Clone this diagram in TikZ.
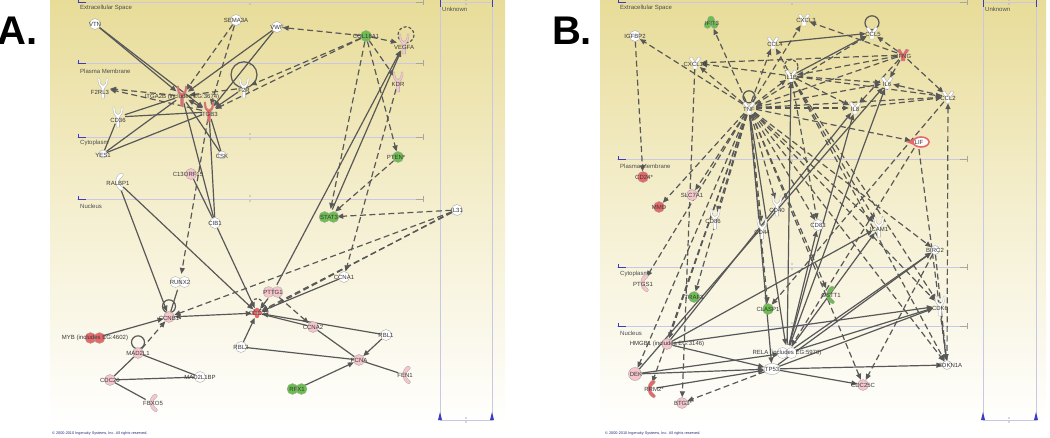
\documentclass[tikz,border=0pt]{standalone}
\usepackage{fontspec}
\setmainfont{Liberation Sans}
\usetikzlibrary{arrows.meta,shapes.geometric}
\definecolor{bgtop}{RGB}{232,220,152}
\definecolor{redc}{RGB}{232,104,106}
\definecolor{pinkc}{RGB}{246,198,204}
\definecolor{greenc}{RGB}{108,190,80}
\definecolor{edgec}{RGB}{88,88,88}
\definecolor{layc}{RGB}{200,200,228}
\definecolor{markc}{RGB}{60,60,190}
\definecolor{copyc}{RGB}{40,40,120}
\pgfdeclarelayer{back}
\pgfdeclarelayer{edges}
\pgfsetlayers{back,edges,main}
\newcommand\labfont{\fontsize{6}{6.5}\selectfont}
\tikzset{
  gene/.style={circle, draw=gray!75, line width=0.35pt, minimum size=11pt, inner sep=0pt},
  wh/.style={gene, fill=white},
  pk/.style={gene, fill=pinkc},
  rd/.style={gene, fill=redc},
  gn/.style={gene, fill=greenc},
  hub/.style={circle, minimum size=#1, inner sep=0pt},
  hub/.default=14pt,
  lab/.style={font=\labfont, text=black!78, inner sep=0pt},
  layl/.style={font=\labfont, text=black!70, anchor=west, inner sep=0pt},
  lin/.style={draw=edgec, line width=1.2pt},
  arr/.style={lin, -{Triangle[length=6pt,width=5pt]}},
  darr/.style={arr, dash pattern=on 6pt off 3.5pt},
  dlin/.style={lin, dash pattern=on 6pt off 3.5pt},
  biarr/.style={lin, {Triangle[length=6pt,width=5pt]}-{Triangle[length=6pt,width=5pt]}},
  layline/.style={draw=layc, line width=0.8pt},
  rec/.pic={\path[draw=gray!70, line width=0.3pt, fill=#1] (-5,-10) .. controls (-5,-3) and (-3,-1) .. (-1.6,0) -- (-1.6,10) -- (1.6,10) -- (1.6,0) .. controls (3,-1) and (5,-3) .. (5,-10) -- (3.2,-10) .. controls (3.2,-4) and (1.5,-2.5) .. (0,-2.5) .. controls (-1.5,-2.5) and (-3.2,-4) .. (-3.2,-10) -- cycle;},
  enz/.pic={\path[draw=gray!70, line width=0.3pt, fill=#1] (1,-9) .. controls (-6,-6) and (-6,6) .. (2,9) .. controls (4,8) and (4,6) .. (2,5) .. controls (-2,3) and (-2,-3) .. (2,-5) .. controls (4,-6) and (4,-8) .. (1,-9) -- cycle;},
  cyto/.pic={\path[draw=gray!70, line width=0.3pt, fill=#1] (-6,-5) -- (-3,-6) -- (0,-1) -- (3,-6) -- (6,-5) -- (2,1) -- (2,6) -- (-2,6) -- (-2,1) -- cycle;},
  dbl/.pic={\path[draw=gray!70, line width=0.3pt, fill=#1] (-4.5,0) circle[radius=5.5] (4.5,0) circle[radius=5.5];},
  grp/.pic={\path[draw=gray!70, line width=0.3pt, fill=#1] (-3.5,2) circle[radius=3.5] (3.5,2) circle[radius=3.5] (0,-3.5) circle[radius=3.5];},
  cplx/.pic={\path[fill=redc] (-3,0) circle[radius=2.2] (3,0) circle[radius=2.2] (0,-3) circle[radius=2.2] (0,3) circle[radius=2.2];},
  lifp/.pic={\path[fill=redc] (-12,0) -- (-4,-3) -- (-4,3) -- cycle; \path[draw=redc, line width=1.6pt, fill=white] (3,0) ellipse[x radius=8, y radius=5];}
}
\begin{document}
\begin{tikzpicture}[x=1pt,y=-1pt]
\useasboundingbox (0,0) rectangle (1050,438);
\begin{pgfonlayer}{back}
\shade[top color=bgtop, bottom color=white, middle color=bgtop!45!white] (50,0) rectangle (505,428);
\shade[top color=bgtop, bottom color=white, middle color=bgtop!45!white] (600,0) rectangle (1046,428);
% layer lines A
\foreach \yy in {2,63,137,199} {
  \draw[layline] (77,\yy) -- (423,\yy);
  \draw[markc, line width=0.9pt] (78,\yy-3) -- (78,\yy+1) (78,\yy) -- (86,\yy);
  \draw[gray!70, line width=0.8pt] (423,\yy-3) -- (423,\yy+3) (416,\yy) -- (423,\yy);
  \fill[gray!60] (250,\yy-3) circle[radius=0.8] (250,\yy+2) circle[radius=0.8];
}
\draw[layline] (440,0) -- (440,420) -- (492,420) -- (492,0);
\draw[layline] (440,2) -- (492,2);
\draw[markc, line width=1pt] (440,0) -- (440,7) (492,0) -- (492,7);
\fill[markc] (438,420) -- (442,420) -- (440,412) -- cycle (490,420) -- (494,420) -- (492,412) -- cycle;
\fill[gray!60] (466,418) circle[radius=0.8] (466,422) circle[radius=0.8] (466,0) circle[radius=0.8] (466,4) circle[radius=0.8];
% layer lines B
\foreach \yy in {2,159,267,326} {
  \draw[layline] (617,\yy) -- (967,\yy);
  \draw[markc, line width=0.9pt] (618,\yy-3) -- (618,\yy+1) (618,\yy) -- (626,\yy);
  \draw[gray!70, line width=0.8pt] (967,\yy-3) -- (967,\yy+3) (960,\yy) -- (967,\yy);
  \fill[gray!60] (792,\yy-3) circle[radius=0.8] (792,\yy+2) circle[radius=0.8];
}
\draw[layline] (983,0) -- (983,420) -- (1036,420) -- (1036,0);
\draw[layline] (983,2) -- (1036,2);
\draw[markc, line width=1pt] (983,0) -- (983,7) (1036,0) -- (1036,7);
\fill[markc] (981,420) -- (985,420) -- (983,412) -- cycle (1034,420) -- (1038,420) -- (1036,412) -- cycle;
\fill[gray!60] (1009,418) circle[radius=0.8] (1009,422) circle[radius=0.8] (1009,0) circle[radius=0.8] (1009,4) circle[radius=0.8];
\end{pgfonlayer}
% panel letters and layer labels
\node[font=\bfseries\fontsize{40}{40}\selectfont, inner sep=0pt] (LA) at (18,31) {A.};
\node[font=\bfseries\fontsize{40}{40}\selectfont, inner sep=0pt] (LB) at (572,31) {B.};
\node[layl] (la1) at (80,8) {Extracellular Space};
\node[layl] (la2) at (80,71) {Plasma Membrane};
\node[layl] (la3) at (80,143) {Cytoplasm};
\node[layl] (la4) at (80,206) {Nucleus};
\node[layl] (la5) at (442,9) {Unknown};
\node[layl] (lb1) at (620,8) {Extracellular Space};
\node[layl] (lb2) at (620,166) {Plasma Membrane};
\node[layl] (lb3) at (620,274) {Cytoplasm};
\node[layl] (lb4) at (620,333) {Nucleus};
\node[layl] (lb5) at (985,9) {Unknown};
\node[anchor=west, inner sep=0pt, text=copyc, font=\fontsize{3.8}{4}\selectfont] (ca) at (52,434) {© 2000-2010 Ingenuity Systems, Inc. All rights reserved.};
\node[anchor=west, inner sep=0pt, text=copyc, font=\fontsize{3.8}{4}\selectfont] (cb) at (605,434) {© 2000-2010 Ingenuity Systems, Inc. All rights reserved.};

% ================= Panel A nodes =================
\node[wh] (VTN) at (95,24) {};
\node[wh] (SEMA3A) at (236,20) {};
\node[wh] (VWF) at (277,27) {};
\node[gn] (COL18A1) at (366,36) {};
\pic at (404,44) {rec=pinkc}; \node[hub] (VEGFA) at (404,44) {};
\pic at (398,82) {rec=pinkc}; \node[hub] (KDR) at (398,82) {};
\pic at (103,88) {rec=white}; \node[hub] (F2RL3) at (103,88) {};
\pic at (182,96) {rec=redc}; \node[hub] (ITGA2B) at (182,96) {};
\pic at (209,112) {rec=redc}; \node[hub] (ITGB3) at (209,112) {};
\pic at (244,88) {rec=white}; \node[hub] (F2R) at (244,88) {};
\pic at (118,117) {rec=white}; \node[hub] (CD36) at (118,117) {};
\node[wh, minimum size=8pt] (YES1) at (103,154) {};
\node[wh, minimum size=8pt] (CSK) at (222,155) {};
\node[pk] (C13ORF15) at (191,174) {};
\pic at (120,182) {enz=white}; \node[hub] (RALBP1) at (118,182) {};
\node[gn] (PTEN) at (398,157) {};
\pic at (329,217) {dbl=greenc}; \node[hub=16pt] (STAT3) at (329,217) {};
\node[wh] (IL31) at (457,210) {};
\node[wh] (CIB1) at (215,223) {};
\node[wh] (CCNA1) at (344,277) {};
\pic at (180,282) {dbl=white}; \node[hub=16pt] (RUNX2) at (180,282) {};
\pic at (273,292) {dbl=pinkc}; \node[hub=16pt] (PTTG1) at (273,292) {};
\node[pk] (CCNB1) at (169,317) {};
\pic at (257,313) {cplx}; \node[hub=10pt] (CDC2) at (257,313) {};
\node[pk] (CCNA2) at (313,327) {};
\node[wh] (RBL1) at (386,335) {};
\pic at (95,338) {dbl=redc}; \node[hub=16pt] (MYB) at (95,338) {};
\node[wh] (RBL2) at (241,347) {};
\node[pk] (MAD2L1) at (138,353) {};
\node[pk] (PCNA) at (359,360) {};
\pic at (407,375) {enz=pinkc}; \node[hub] (FEN1) at (405,375) {};
\node[wh] (MAD2L1BP) at (200,377) {};
\node[pk] (CDC20) at (110,380) {};
\pic at (297,389) {dbl=greenc}; \node[hub=16pt] (RFX1) at (297,389) {};
\pic at (154,403) {enz=pinkc}; \node[hub] (FBXO5) at (152,403) {};

% ================= Panel B nodes =================
\node[wh] (IGFBP2) at (635,36) {};
\pic at (711,23) {grp=greenc}; \node[hub=12pt] (IFIT3) at (711,23) {};
\pic at (804,20) {cyto=white}; \node[hub=12pt] (CXCL3) at (804,20) {};
\pic at (773,43) {cyto=white}; \node[hub=12pt] (CCL4) at (773,43) {};
\pic at (872,33) {cyto=white}; \node[hub=12pt] (CCL5) at (872,33) {};
\pic at (903,55) {cyto=redc}; \node[hub=12pt] (IFNG) at (903,55) {};
\pic at (695,63) {cyto=white}; \node[hub=12pt] (CXCL10) at (695,63) {};
\pic at (791,76) {cyto=white}; \node[hub=12pt] (IL1B) at (791,76) {};
\pic at (887,83) {cyto=white}; \node[hub=12pt] (IL6) at (887,83) {};
\pic at (948,97) {cyto=white}; \node[hub=12pt] (CCL2) at (948,97) {};
\pic at (749,108) {cyto=white}; \node[hub=14pt] (TNF) at (749,108) {};
\pic at (855,108) {cyto=white}; \node[hub=12pt] (IL8) at (855,108) {};
\pic at (918,142) {lifp}; \node[hub=14pt] (LIF) at (918,142) {};
\node[rd] (CD24) at (643,177) {};
\node[pk] (SLC7A1) at (692,195) {};
\node[rd] (MMD) at (659,207) {};
\pic at (715,219) {rec=white}; \node[hub] (CD86) at (715,219) {};
\pic at (777,206) {rec=white}; \node[hub] (CD40) at (777,206) {};
\pic at (762,229) {rec=white}; \node[hub] (CD44) at (762,229) {};
\node[wh] (CD83) at (818,225) {};
\pic at (879,227) {rec=white}; \node[hub] (ICAM1) at (879,227) {};
\node[wh, minimum size=9pt] (BIRC) at (935,250) {};
\pic at (645,283) {enz=pinkc}; \node[hub] (PTGS1) at (643,283) {};
\node[gn] (TRAF3) at (694,297) {};
\pic at (831,295) {enz=greenc}; \node[hub] (GENZ) at (829,295) {};
\node[gn] (CLASP1) at (768,309) {};
\pic at (940,306) {rec=white}; \node[hub] (CDKr) at (940,306) {};
\node[pk] (HMGB1) at (667,344) {};
\pic at (787,353) {dbl=white}; \node[hub=16pt] (RELA) at (787,353) {};
\node[ellipse, draw=gray!75, line width=0.35pt, fill=white, minimum width=16pt, minimum height=11pt, inner sep=0pt] (TP53) at (772,369) {};
\node[wh, minimum size=9pt] (CDKN1A) at (947,365) {};
\node[pk, minimum size=13pt] (DEK) at (635,374) {};
\pic at (652,389) {enz=redc}; \node[hub] (RRM2) at (650,389) {};
\node[pk] (CDC25C) at (863,385) {};
\node[pk] (BTG3) at (682,403) {};

% ================= Edges =================
\begin{pgfonlayer}{edges}
% --- A
\foreach \a/\b in {VTN/ITGA2B, VTN/ITGB3, VWF/ITGA2B, VWF/ITGB3, F2R/ITGB3, STAT3/VEGFA, PTTG1/VEGFA, RALBP1/CCNB1, RALBP1/CDC2, MYB/CCNB1, RBL2/CDC2, RBL1/CDC2, RBL1/PCNA, RFX1/PCNA, CIB1/CDC2, CCNA1/CDC2, PTTG1/CDC2}
  \draw[arr] (\a) -- (\b);
\draw[biarr] (CCNB1) -- (CDC2);
\draw[biarr] (ITGA2B) -- (ITGB3);
\foreach \a/\b in {CD36/ITGA2B, CD36/ITGB3, YES1/ITGA2B, YES1/ITGB3, YES1/CD36, CSK/ITGA2B, CSK/ITGB3, ITGB3/CIB1, ITGA2B/CIB1, C13ORF15/CIB1, RUNX2/CCNB1, MAD2L1/CDC20, MAD2L1/MAD2L1BP, CDC20/MAD2L1BP, CDC20/FBXO5, RBL2/PCNA, CCNA2/PCNA, PCNA/FEN1, CDC2/CCNA2}
  \draw[lin] (\a) -- (\b);
\foreach \a/\b in {SEMA3A/ITGA2B, SEMA3A/ITGB3, COL18A1/VWF, COL18A1/F2R, COL18A1/ITGB3, COL18A1/VEGFA, COL18A1/KDR, COL18A1/PTEN, COL18A1/STAT3, ITGA2B/F2RL3, ITGB3/F2RL3, F2R/ITGA2B, ITGB3/RUNX2, MAD2L1/CCNB1, IL31/STAT3, IL31/CDC2, IL31/CCNB1, PTEN/STAT3, KDR/CCNA1, PTTG1/CCNA2}
  \draw[darr] (\a) -- (\b);
\draw[darr] (IL31.200) -- (CDC2.10);
% loops A
\draw[lin] (F2R.north) ++(0,-6) circle[radius=13];
\draw[lin] (CCNB1.north) ++(0,-5) circle[radius=6.5];
\draw[lin] (MAD2L1.north) ++(0,-5) circle[radius=6.5];
\draw[dlin, dash pattern=on 3pt off 2pt] (VEGFA.north) ++(2,-2) circle[radius=8];
\draw[dlin, dash pattern=on 3pt off 2pt] (CDC2.north) ++(0,-3) circle[radius=6];
% --- B
\foreach \b in {IGFBP2, IFIT3, CXCL10, CCL4, CXCL3, CCL5, IL1B, IL6, IL8, CCL2, LIF, SLC7A1, MMD, PTGS1, CD86, CD40, CD44, CD83, ICAM1, BIRC, CDKr, CDKN1A, HMGB1, DEK, RRM2, TRAF3, CLASP1, GENZ, CDC25C}
  \draw[darr] (TNF) -- (\b);
\foreach \b in {CCL5, CXCL3, IL6, CCL2, IL8, TNF, IL1B, CXCL10}
  \draw[darr] (IFNG) -- (\b);
\foreach \b in {CCL4, CXCL10, IL6, IL8, CCL2, ICAM1, CD83, CDKN1A, CDKr}
  \draw[darr] (IL1B) -- (\b);
\foreach \a/\b in {CCL2/IL6, IL8/CCL2, IGFBP2/CD24, CXCL10/BTG3, LIF/RELA, LIF/CDKN1A, CDKN1A/CCL2, CCL2/CLASP1, BIRC/CDKN1A, CDKr/CDKN1A, BIRC/CDC25C, TP53/BTG3}
  \draw[darr] (\a) -- (\b);
\foreach \a/\b in {RELA/IL1B, RELA/IL6, RELA/IL8, RELA/ICAM1, RELA/BIRC, RELA/CDKr, RELA/CD83, TNF/RELA, TNF/TP53, TP53/CDKN1A, TP53/CDC25C, HMGB1/TP53, DEK/TP53, DEK/RELA, RRM2/TP53, TP53/BIRC, TP53/CDKr, HMGB1/ICAM1, HMGB1/IL8, HMGB1/CDKr, DEK/IL6, CCL4/CCL5, IL1B/CCL5}
  \draw[arr] (\a) -- (\b);
\draw[lin] (TNF.north) ++(0,-4) circle[radius=6];
\draw[dlin, dash pattern=on 3pt off 2pt] (IL1B.north) ++(0,-3) circle[radius=7];
\draw[lin] (CCL5.north) ++(0,-4) circle[radius=7];
\end{pgfonlayer}

% ================= Labels =================
\node[lab] at (VTN) {VTN};
\node[lab] at (SEMA3A) {SEMA3A};
\node[lab] at (VWF) {VWF};
\node[lab] at (COL18A1) {COL18A1};
\node[lab] at (404,47) {VEGFA};
\node[lab] at (398,84) {KDR};
\node[lab] at (100,92) {F2RL3};
\node[lab] at (182,97) {ITGA2B (includes EG:3674)};
\node[lab] at (209,114) {ITGB3};
\node[lab] at (244,90) {F2R};
\node[lab] at (118,120) {CD36};
\node[lab] at (103,155) {YES1};
\node[lab] at (222,156) {CSK};
\node[lab] at (188,174) {C13ORF15};
\node[lab] at (118,183) {RALBP1};
\node[lab] at (396,157) {PTEN*};
\node[lab] at (329,217) {STAT3};
\node[lab] at (457,210) {IL31};
\node[lab] at (215,223) {CIB1};
\node[lab] at (344,277) {CCNA1};
\node[lab] at (180,282) {RUNX2};
\node[lab] at (273,292) {PTTG1};
\node[lab] at (169,318) {CCNB1};
\node[lab] at (257,313) {CDC2};
\node[lab] at (313,327) {CCNA2};
\node[lab] at (386,335) {RBL1};
\node[lab] at (95,338) {MYB (includes EG:4602)};
\node[lab] at (241,347) {RBL2};
\node[lab] at (138,353) {MAD2L1};
\node[lab] at (359,360) {PCNA};
\node[lab] at (405,375) {FEN1};
\node[lab] at (200,377) {MAD2L1BP};
\node[lab] at (110,380) {CDC20};
\node[lab] at (297,389) {RFX1};
\node[lab] at (153,403) {FBXO5};
% B labels
\node[lab] at (635,36) {IGFBP2};
\node[lab] at (712,23) {IFIT3};
\node[lab] at (806,20) {CXCL3};
\node[lab] at (775,44) {CCL4};
\node[lab] at (873,34) {CCL5};
\node[lab] at (904,56) {IFNG};
\node[lab] at (695,64) {CXCL10};
\node[lab] at (791,77) {IL1B};
\node[lab] at (887,84) {IL6};
\node[lab] at (948,98) {CCL2};
\node[lab] at (749,109) {TNF};
\node[lab] at (855,109) {IL8};
\node[lab] at (919,142) {LIF};
\node[lab] at (644,177) {CD24*};
\node[lab] at (692,195) {SLC7A1};
\node[lab] at (659,207) {MMD};
\node[lab] at (713,221) {CD86};
\node[lab] at (777,210) {CD40};
\node[lab] at (762,232) {CD44};
\node[lab] at (818,225) {CD83};
\node[lab] at (879,229) {ICAM1};
\node[lab] at (935,250) {BIRC2};
\node[lab] at (643,284) {PTGS1};
\node[lab] at (694,297) {TRAF3};
\node[lab] at (831,295) {GSTT1};
\node[lab] at (768,309) {CLASP1};
\node[lab] at (940,308) {CDK6};
\node[lab] at (667,344) {HMGB1 (includes EG:3146)};
\node[lab] at (787,353) {RELA (includes EG:5970)};
\node[lab] at (772,369) {TP53};
\node[lab] at (950,365) {CDKN1A};
\node[lab] at (636,374) {DEK};
\node[lab] at (654,389) {RRM2*};
\node[lab] at (863,385) {CDC25C};
\node[lab] at (683,403) {BTG3*};
\end{tikzpicture}
\end{document}
